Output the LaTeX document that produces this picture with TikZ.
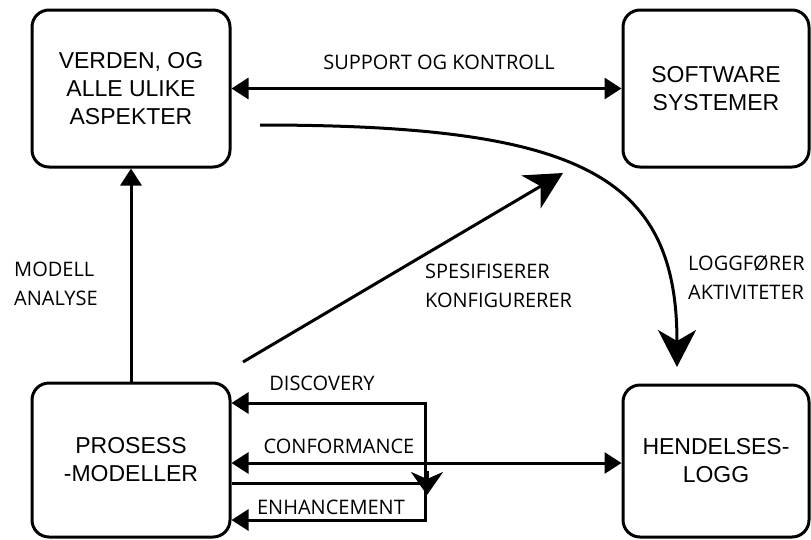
\documentclass[tikz,border=0pt]{standalone}
\usepackage{fontspec}
\setmainfont{Liberation Sans}
\newfontfamily\labelfont{Open Sans}
\usetikzlibrary{arrows.meta}

\begin{document}
\begin{tikzpicture}[x=1pt,y=-1pt,
  box/.style={draw, line width=3pt, rounded corners=17pt, align=center,
    inner sep=0pt, font=\fontsize{23}{28}\selectfont},
  lbl/.style={inner sep=0pt, align=left, font=\labelfont\fontsize{20}{29}\selectfont},
  conn/.style={line width=3pt, line join=miter},
  tri/.style={conn, -{Triangle[length=17pt,width=21pt]}},
  dbl/.style={conn, {Triangle[length=17pt,width=21pt]}-{Triangle[length=17pt,width=21pt]}},
  bigstl/.style={conn, -{Stealth[length=37pt,width=38pt,inset=11pt]}},
  smallstl/.style={conn, -{Stealth[length=23pt,width=32pt,inset=7pt]}}
]
\useasboundingbox (0,0) rectangle (811,539);

% the four boxes
\node[box, minimum width=198pt, minimum height=157pt] (world) at (131,88.5)
  {VERDEN, OG\\ALLE ULIKE\\ASPEKTER};
\node[box, minimum width=186pt, minimum height=157pt] (soft) at (716,88.5)
  {SOFTWARE\\SYSTEMER};
\node[box, minimum width=198pt, minimum height=154pt] (model) at (131,460)
  {PROSESS\\-MODELLER};
\node[box, minimum width=186pt, minimum height=152pt] (log) at (716,461)
  {HENDELSES-\\LOGG};

% support and control between world and software
\draw[dbl] (world.east) -- (soft.west);
\node[lbl] (supp) at (439,62) {SUPPORT OG KONTROLL};

% model analysis
\draw[tri] (model.north) -- (world.south);
\node[lbl, anchor=west] (ana) at (14,284) {MODELL\\ANALYSE};

% software records activities into the log
\coordinate (recS) at (260,125);
\coordinate (recE) at (677,367);
\draw[bigstl] (recS) .. controls (580,125) and (677,175) .. (recE);
\node[lbl, anchor=west] (rec) at (688,278) {LOGGFØRER\\AKTIVITETER};

% models specify / configure
\coordinate (specS) at (243,362);
\coordinate (specE) at (563,173);
\draw[bigstl] (specS) -- (specE);
\node[lbl, anchor=west] (spec) at (425,286) {SPESIFISERER\\KONFIGURERER};

% discovery / enhancement loop
\coordinate (discR) at (425,403);
\coordinate (enhR) at (425,520);
\draw[conn, {Triangle[length=17pt,width=21pt]}-{Triangle[length=17pt,width=21pt]}]
  (model.east |- discR) -- (discR) -- (enhR) -- (model.east |- enhR);
\node[lbl] (disc) at (322,383) {DISCOVERY};
\node[lbl] (enh) at (331,507) {ENHANCEMENT};

% enhancement feed from the models
\coordinate (feed) at (427,483);
\coordinate (feedTip) at (427,495);
\draw[conn] (model.east |- feed) -- (feed);
\draw[smallstl] ([yshift=12pt]feed) -- (feedTip);

% conformance between models and log
\coordinate (confL) at (230,463);
\draw[dbl] (model.east |- confL) -- (log.west |- confL);
\node[lbl] (conf) at (339,446) {CONFORMANCE};
\end{tikzpicture}
\end{document}
